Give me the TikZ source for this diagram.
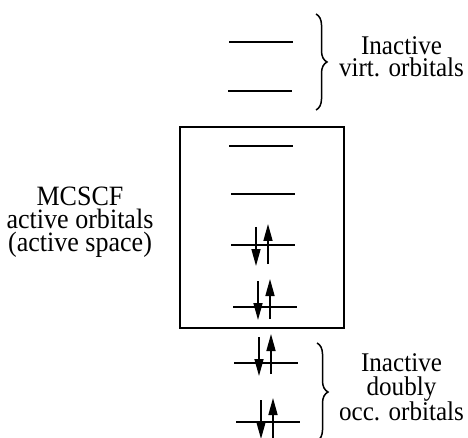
\documentclass[tikz,border=0pt]{standalone}
\usepackage{fontspec}
\setmainfont{Liberation Serif}
\newfontfamily\lblfont[FakeStretch=0.93]{Liberation Serif}
\usetikzlibrary{arrows.meta,decorations.pathreplacing,calc}

\begin{document}
\begin{tikzpicture}[x=1pt, y=-1pt,
    lbl/.style={align=center, inner sep=0pt,
        font=\lblfont\fontsize{27}{23}\selectfont,
        execute at begin node={\lineskiplimit=-30pt\relax\baselineskip=#1pt\relax}},
    level/.style={line width=2pt},
    spin/.style={line width=1.6pt, -{Triangle[length=17pt,width=9pt]}},
    grp/.style={line width=1.5pt, decorate, decoration={brace, amplitude=11pt}}]
    \useasboundingbox (0,0) rectangle (468,438);
    % orbital levels
    \foreach \n/\xa/\y in {v1/229/42, v2/228/91, a1/229/146, a2/231/194,
                           a3/231/245, a4/233/307, d1/234/363, d2/236/422}
    {
        \coordinate (\n-l) at (\xa,\y);
        \coordinate (\n-r) at (\xa+64,\y);
        \draw[level] (\n-l) -- (\n-r);
    }
    % electron pairs
    \foreach \n/\dn/\up in {a3/-18/19, a4/-26/12, d1/-26/11, d2/-22/16}
    {
        \draw[spin] ($(\n-l)+(25,\dn)$) -- ++(0,39);
        \draw[spin] ($(\n-l)+(37,\up)$) -- ++(0,-40);
    }
    % active space
    \draw[line width=2pt] (180,127.5) rectangle (344,327.5);
    \node (act) at (80,222) [lbl=23, font=\lblfont\fontsize{28}{23}\selectfont]
        {MCSCF\\active orbitals\\(active space)};
    % inactive groups
    \coordinate (bv-t) at (316,14);
    \coordinate (bv-b) at (316,110);
    \draw[grp] (bv-t) -- (bv-b);
    \node (virt) at (401.5,57.2) [lbl=22] {Inactive\\virt. orbitals};
    \coordinate (bd-t) at (317,343);
    \coordinate (bd-b) at (317,441);
    \draw[grp] (bd-t) -- (bd-b);
    \node (occ) at (401.5,387) [lbl=24.5] {Inactive\\doubly\\occ. orbitals};
\end{tikzpicture}
\end{document}
